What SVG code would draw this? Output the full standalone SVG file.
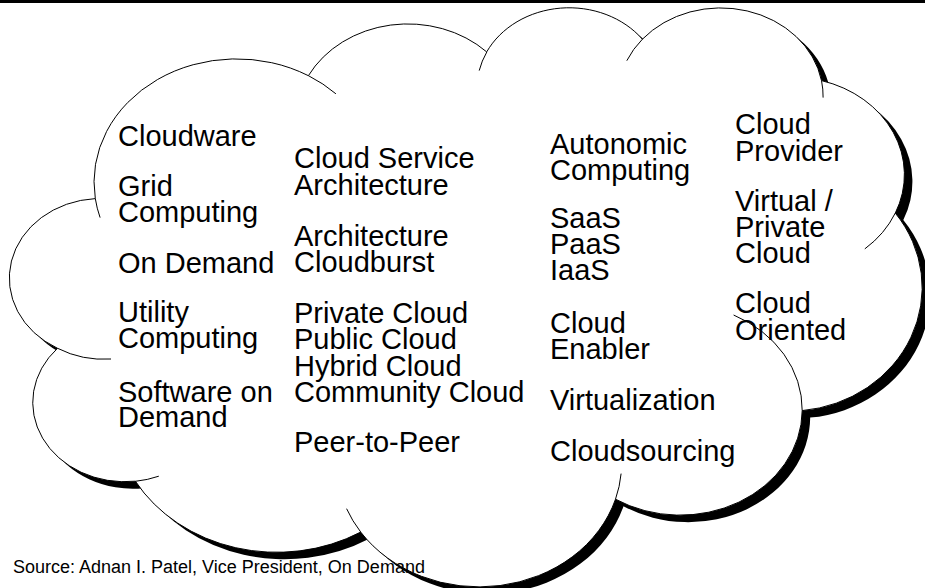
<svg xmlns="http://www.w3.org/2000/svg" xmlns:xlink="http://www.w3.org/1999/xlink" width="925" height="588" viewBox="0 0 925 588">
  <style>
    .lbl { font-family: "Liberation Sans", Arial, Helvetica, sans-serif; font-size: 29px; fill: #000; }
    .src { font-family: "Liberation Sans", Arial, Helvetica, sans-serif; font-size: 18px; fill: #000; }
    .edge { fill: #fff; stroke: #000; stroke-width: 1; }
    .tail { fill: none; stroke: #000; stroke-width: 1; }
  </style>
  <defs>
    <!-- eleven-lobe cloud outline -->
    <path id="cloud-outline" d="M95.3,198.6 A142.5,123.2 0 0 1 308.4,75.7 A112.5,97.4 0 0 1 486.7,51.9 A92.1,79.7 0 0 1 642.4,39.2 A102.5,88.4 0 0 1 821.5,80.6 A112.5,97.5 0 0 1 895.3,213.1 A133,123.6 0 0 1 802.2,410.6 A122.1,105.4 0 0 1 615.5,499.2 A142.5,123.5 0 0 1 360.7,532.1 A162.9,141.3 0 0 1 135.4,481.2 A92,79.3 0 0 1 57.5,348.3 A91.7,79.7 0 0 1 95.3,198.6 Z"/>
  </defs>

  <rect x="0" y="0" width="925" height="3" fill="#000"/>

  <g id="cloud">
    <use xlink:href="#cloud-outline" href="#cloud-outline" transform="translate(8 7)" fill="#000"/>
    <use xlink:href="#cloud-outline" href="#cloud-outline" class="edge"/>
    <!-- short inner arcs where the lobes overlap -->
    <g id="cloud-inner-arcs">
      <path class="tail" d="M111.0,359.0 A91.7,79.7 0 0 1 57.6,348.3"/>
      <path class="tail" d="M158.8,476.2 A92,79.3 0 0 1 135.4,481.3"/>
      <path class="tail" d="M360.7,532.0 A142.5,123.5 0 0 1 346.6,508.7"/>
      <path class="tail" d="M621.1,473.6 A142.5,123.5 0 0 1 615.5,499.2"/>
      <path class="tail" d="M733.6,315.0 A122.1,105.4 0 0 1 802.2,410.6"/>
      <path class="tail" d="M895.3,213.0 A112.5,97.5 0 0 1 864.8,248.9"/>
      <path class="tail" d="M821.5,80.6 A102.5,88.4 0 0 1 823.1,97.6"/>
      <path class="tail" d="M626.8,60.7 A102.5,88.4 0 0 1 642.4,39.2"/>
      <path class="tail" d="M479.2,70.6 A92.1,79.7 0 0 1 486.8,52.0"/>
      <path class="tail" d="M308.5,75.7 A142.5,123.2 0 0 1 335.9,93.8"/>
      <path class="tail" d="M100.1,217.6 A142.5,123.2 0 0 1 95.3,198.6"/>
    </g>
  </g>

  <g id="col-1" class="lbl">
    <text x="118" y="146">Cloudware</text>
    <text x="118" y="196">Grid</text>
    <text x="118" y="222">Computing</text>
    <text x="118" y="273">On Demand</text>
    <text x="118" y="322">Utility</text>
    <text x="118" y="348">Computing</text>
    <text x="118" y="402">Software on</text>
    <text x="118" y="427">Demand</text>
  </g>

  <g id="col-2" class="lbl">
    <text x="294" y="168">Cloud Service</text>
    <text x="294" y="195">Architecture</text>
    <text x="294" y="246">Architecture</text>
    <text x="294" y="272">Cloudburst</text>
    <text x="294" y="322.5">Private Cloud</text>
    <text x="294" y="349">Public Cloud</text>
    <text x="294" y="375.5">Hybrid Cloud</text>
    <text x="294" y="402">Community Cloud</text>
    <text x="294" y="452">Peer-to-Peer</text>
  </g>

  <g id="col-3" class="lbl">
    <text x="550" y="154">Autonomic</text>
    <text x="550" y="180">Computing</text>
    <text x="550" y="228">SaaS</text>
    <text x="550" y="254">PaaS</text>
    <text x="550" y="280">IaaS</text>
    <text x="550" y="333">Cloud</text>
    <text x="550" y="359">Enabler</text>
    <text x="550" y="410">Virtualization</text>
    <text x="550" y="461">Cloudsourcing</text>
  </g>

  <g id="col-4" class="lbl">
    <text x="735" y="134">Cloud</text>
    <text x="735" y="160.5">Provider</text>
    <text x="735" y="210.5">Virtual /</text>
    <text x="735" y="236.5">Private</text>
    <text x="735" y="262.5">Cloud</text>
    <text x="735" y="313">Cloud</text>
    <text x="735" y="340">Oriented</text>
  </g>

  <text id="source" class="src" x="13" y="573">Source: Adnan I. Patel, Vice President, On Demand</text>
</svg>
